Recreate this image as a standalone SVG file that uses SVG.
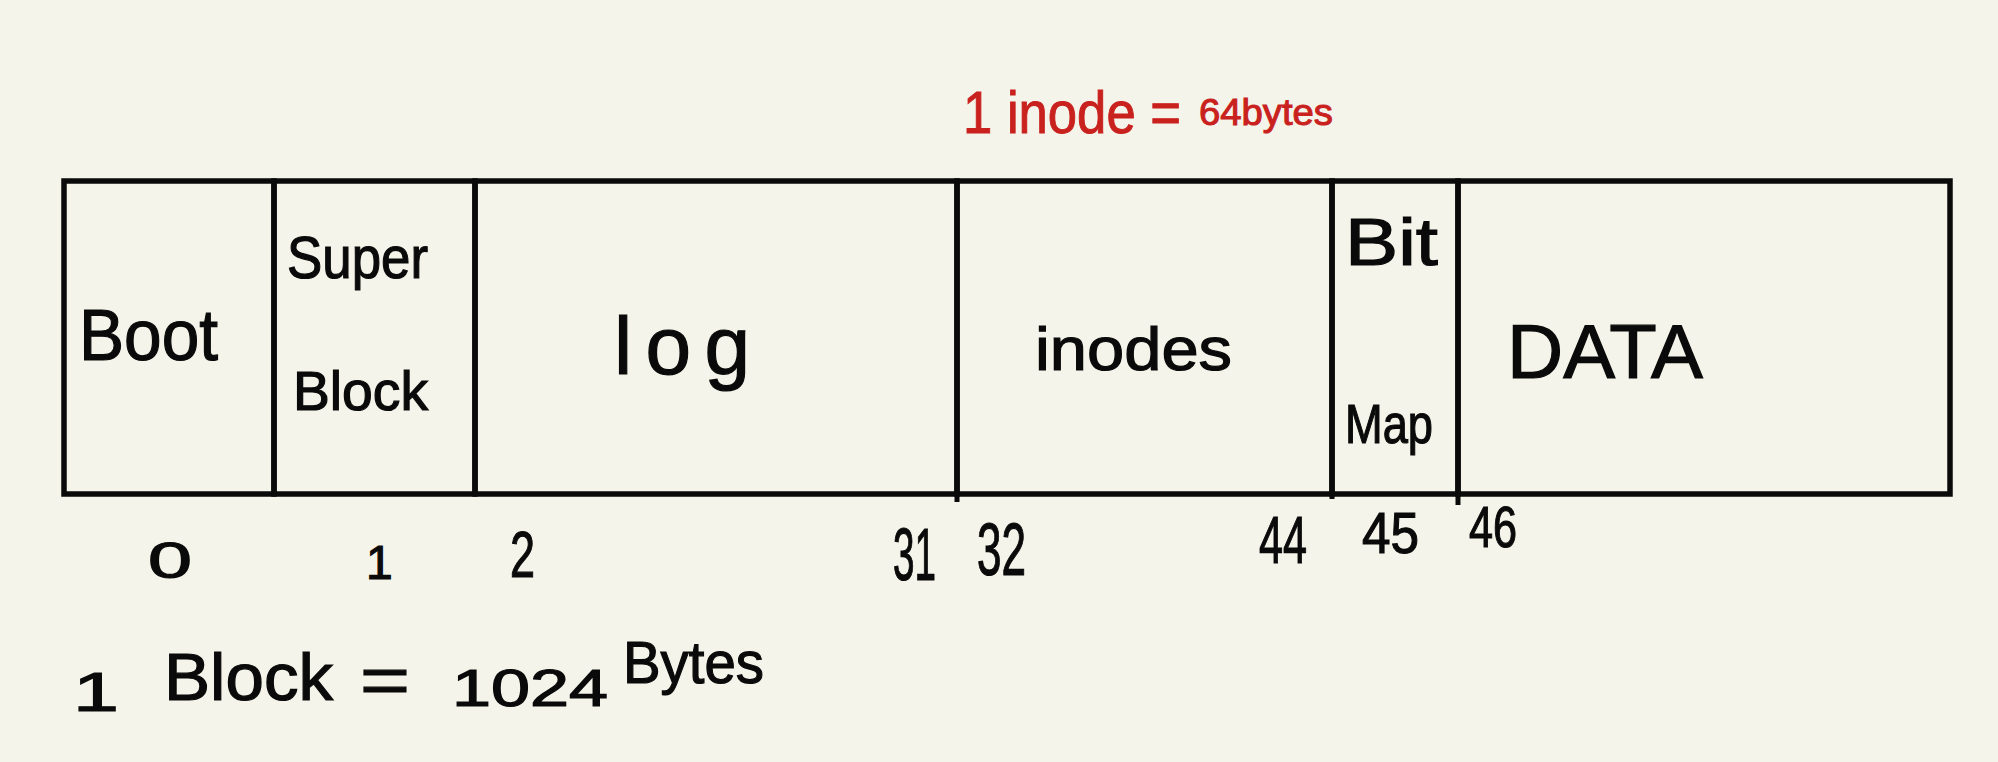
<svg xmlns="http://www.w3.org/2000/svg" width="1998" height="762" viewBox="0 0 1998 762">
<style>
.bg{fill:#f4f4ea}
.cell{fill:none;stroke:#0a0a0a;stroke-width:5.5;stroke-linejoin:miter}
.tick{stroke:#0a0a0a;stroke-width:5}
.t{font-family:"Liberation Sans",Arial,sans-serif;fill:#0a0a0a;stroke:#0a0a0a;stroke-width:1.2}
.r{font-family:"Liberation Sans",Arial,sans-serif;fill:#c9211e;stroke:#c9211e;stroke-width:1}
</style>
<rect class="bg" x="0" y="0" width="1998" height="762"/>
<g id="note-inode">
<text class="r" x="963" y="133" font-size="60" textLength="218" lengthAdjust="spacingAndGlyphs">1 inode =</text>
<text class="r" x="1199" y="125" font-size="36" textLength="134" lengthAdjust="spacingAndGlyphs">64bytes</text>
</g>
<g id="boot">
<rect class="cell" x="64" y="181" width="210" height="313"/>
<text class="t" x="79" y="360" font-size="72" textLength="139" lengthAdjust="spacingAndGlyphs">Boot</text>
</g>
<g id="superblock">
<rect class="cell" x="274" y="181" width="201" height="313"/>
<text class="t" x="287" y="278" font-size="60" textLength="141" lengthAdjust="spacingAndGlyphs">Super</text>
<text class="t" x="293" y="410" font-size="56" textLength="135" lengthAdjust="spacingAndGlyphs">Block</text>
</g>
<g id="log">
<rect class="cell" x="475" y="181" width="482" height="313"/>
<text class="t" x="614" y="374" font-size="82" textLength="136" lengthAdjust="spacing">log</text>
</g>
<g id="inodes">
<rect class="cell" x="957" y="181" width="375" height="313"/>
<text class="t" x="1035" y="370" font-size="62" textLength="197" lengthAdjust="spacingAndGlyphs">inodes</text>
</g>
<g id="bitmap">
<rect class="cell" x="1332" y="181" width="126" height="313"/>
<text class="t" x="1345" y="265" font-size="66" textLength="93" lengthAdjust="spacingAndGlyphs">Bit</text>
<text class="t" x="1345" y="443" font-size="56" textLength="88" lengthAdjust="spacingAndGlyphs">Map</text>
</g>
<g id="data">
<rect class="cell" x="1458" y="181" width="492" height="313"/>
<text class="t" x="1507" y="378" font-size="76" textLength="196" lengthAdjust="spacingAndGlyphs">DATA</text>
</g>
<g id="ticks">
<line class="tick" x1="957" y1="494" x2="957" y2="502"/>
<line class="tick" x1="1332" y1="494" x2="1332" y2="499"/>
<line class="tick" x1="1458" y1="494" x2="1458" y2="505"/>
</g>
<g id="block-numbers">
<text class="t" x="148" y="578" font-size="50" textLength="44" lengthAdjust="spacingAndGlyphs">0</text>
<text class="t" x="366" y="579" font-size="48">1</text>
<text class="t" x="510" y="577" font-size="64" textLength="25" lengthAdjust="spacingAndGlyphs">2</text>
<text class="t" x="893" y="580" font-size="74" textLength="43" lengthAdjust="spacingAndGlyphs">31</text>
<text class="t" x="977" y="575" font-size="74" textLength="49" lengthAdjust="spacingAndGlyphs">32</text>
<text class="t" x="1259" y="563" font-size="66" textLength="48" lengthAdjust="spacingAndGlyphs">44</text>
<text class="t" x="1362" y="553" font-size="58" textLength="57" lengthAdjust="spacingAndGlyphs">45</text>
<text class="t" x="1469" y="547" font-size="58" textLength="48" lengthAdjust="spacingAndGlyphs">46</text>
</g>
<g id="note-block">
<text class="t" x="73" y="711" font-size="56" textLength="46" lengthAdjust="spacingAndGlyphs">1</text>
<text class="t" x="164" y="700" font-size="66" textLength="169" lengthAdjust="spacingAndGlyphs">Block</text>
<text class="t" x="360" y="703" font-size="66" textLength="50" lengthAdjust="spacingAndGlyphs">=</text>
<text class="t" x="452" y="706" font-size="52" textLength="156" lengthAdjust="spacingAndGlyphs">1024</text>
<text class="t" x="623" y="683" font-size="60" textLength="141" lengthAdjust="spacingAndGlyphs">Bytes</text>
</g>
</svg>
